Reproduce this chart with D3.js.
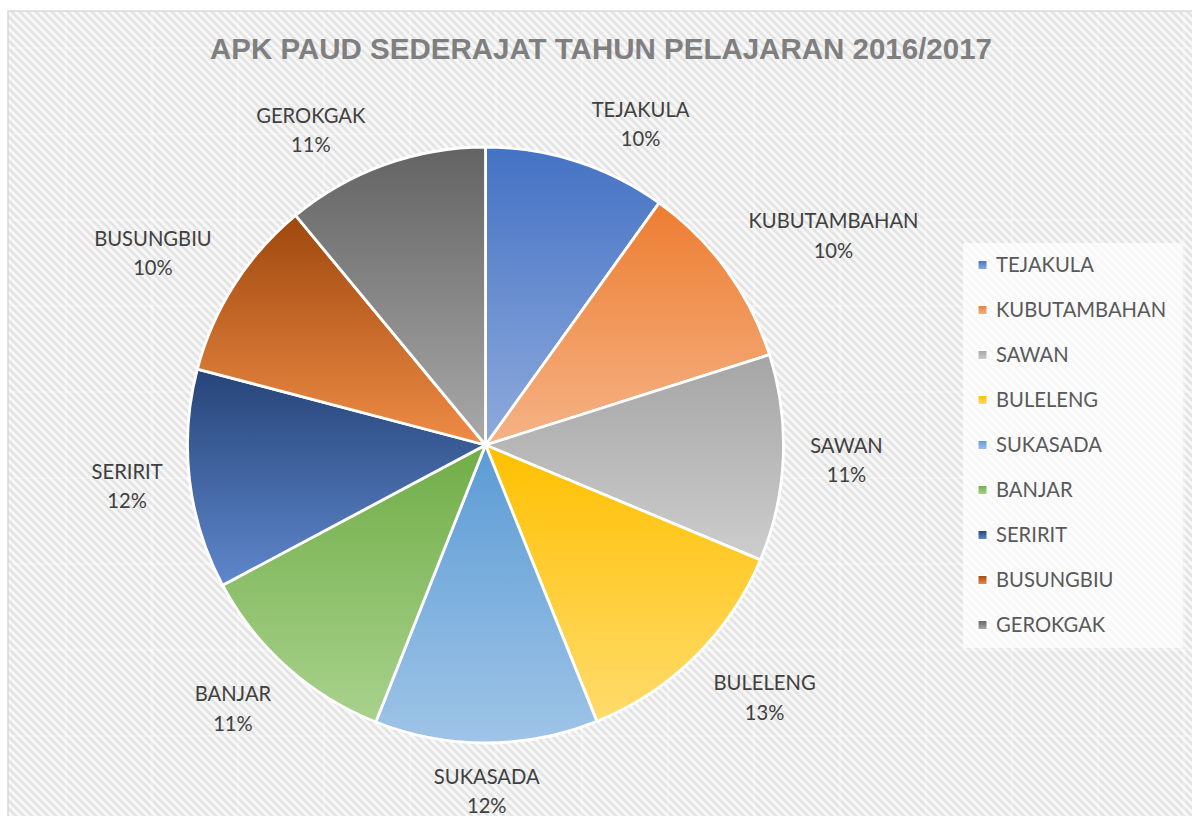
<!DOCTYPE html>
<html>
<head>
<meta charset="utf-8">
<script src="https://cdn.jsdelivr.net/npm/d3@7"></script>
<style>
  body { margin: 0; background: #fff; }
  svg { display: block; }
  .label, .legend-text { font-family: Lato, "Open Sans", sans-serif; font-size: 20.2px; }
  .label { fill: #404040; }
  .legend-text { fill: #595959; }
  .title { font-family: "Liberation Sans", Arial, sans-serif; font-weight: bold; font-size: 29.5px; fill: #7f7f7f; }
</style>
</head>
<body>
<div id="chart"></div>
<script>
const districts = ["TEJAKULA", "KUBUTAMBAHAN", "SAWAN", "BULELENG", "SUKASADA", "BANJAR", "SERIRIT", "BUSUNGBIU", "GEROKGAK"];
const shares = [9.9, 10.2, 11.2, 12.6, 12.1, 11.2, 11.9, 9.9, 11.0];

const topColors = ["#4472c4", "#ed7d31", "#a5a5a5", "#ffc000", "#5b9bd5", "#70ad47", "#264478", "#9e480e", "#636363"];
const bottomColors = ["#8faadc", "#f5b386", "#cdcdcd", "#ffdb6c", "#9fc4e7", "#a9d28d", "#5f87cc", "#ef8c46", "#a9a9a9"];

const W = 1192, H = 816;
const cx = 485.5, cy = 445, radius = 298;
const labelRadius = 325;

const svg = d3.select("#chart").append("svg").attr("width", W).attr("height", H);
const defs = svg.append("defs");

// diagonal hatch background
const hatch = defs.append("pattern")
  .attr("id", "hatch")
  .attr("patternUnits", "userSpaceOnUse")
  .attr("width", 8).attr("height", 8);
hatch.append("rect").attr("width", 8).attr("height", 8).attr("fill", "#f7f7f7");
hatch.append("path")
  .attr("d", "M-2,-2L10,10M-2,6L2,10M6,-2L10,2")
  .attr("stroke", "#e3e3e3")
  .attr("stroke-width", 2.6);

districts.forEach((d, i) => {
  const g = defs.append("linearGradient")
    .attr("id", `grad${i}`)
    .attr("x1", 0).attr("y1", 0).attr("x2", 0).attr("y2", 1);
  g.append("stop").attr("offset", "0%").attr("stop-color", topColors[i]);
  g.append("stop").attr("offset", "100%").attr("stop-color", bottomColors[i]);
});

svg.append("rect")
  .attr("x", 8).attr("y", 11)
  .attr("width", W).attr("height", H)
  .attr("fill", "url(#hatch)")
  .attr("stroke", "#d9d9d9")
  .attr("stroke-width", 1.5);

// faint sheet grid showing through
const grid = svg.append("g").attr("stroke", "#fff").attr("stroke-opacity", 0.55).attr("stroke-width", 1);
grid.selectAll(".gx").data(d3.range(66, W, 86)).join("line")
  .attr("x1", d => d).attr("x2", d => d).attr("y1", 12).attr("y2", H);
grid.selectAll(".gy").data(d3.range(48, H, 86)).join("line")
  .attr("y1", d => d).attr("y2", d => d).attr("x1", 9).attr("x2", W);

svg.append("text")
  .attr("class", "title")
  .attr("x", 601).attr("y", 59.3)
  .attr("text-anchor", "middle")
  .text("APK PAUD SEDERAJAT TAHUN PELAJARAN 2016/2017");

const total = d3.sum(shares);
const pct = d3.format(".0%");
const pie = d3.pie().sort(null).value(d => d);
const arc = d3.arc().innerRadius(0).outerRadius(radius);
const arcs = pie(shares);

const pieG = svg.append("g").attr("transform", `translate(${cx},${cy})`);
pieG.selectAll("path").data(arcs).join("path")
  .attr("d", arc)
  .attr("fill", (d, i) => `url(#grad${i})`)
  .attr("stroke", "#fff")
  .attr("stroke-width", 2.8)
  .attr("stroke-linejoin", "round");

// outside-end data labels
const clamp = v => Math.max(-1, Math.min(1, v));
const capH = 14, lineH = 29.5;
const labels = svg.append("g");
arcs.forEach((a, i) => {
  let theta = (a.startAngle + a.endAngle) / 2;
  if (theta > Math.PI) theta -= 2 * Math.PI;
  let phi = theta;
  if (Math.cos(theta) > 0.9) phi = theta * 1.3;

  const t = labels.append("text").attr("class", "label").attr("text-anchor", "middle");
  const l1 = t.append("tspan").text(districts[i]);
  const l2 = t.append("tspan").text(pct(shares[i] / total));
  const w = Math.max(l1.node().getComputedTextLength(), l2.node().getComputedTextLength());
  const h = capH + lineH;

  const px = cx + labelRadius * Math.sin(phi);
  const py = cy - labelRadius * Math.cos(phi);
  const bx = px + (w / 2) * clamp(Math.sin(phi) * Math.SQRT2);
  const by = py + (h / 2) * clamp(-Math.cos(phi) * Math.SQRT2);

  const base = by - h / 2 + capH;
  l1.attr("x", bx).attr("y", base);
  l2.attr("x", bx).attr("y", base + lineH);
});

// legend
const legend = svg.append("g").attr("transform", "translate(963,243)");
legend.append("rect")
  .attr("width", 220).attr("height", 405)
  .attr("fill", "#fff").attr("fill-opacity", 0.7);

const ly = d3.scalePoint().domain(districts).range([22, 382]);
const item = legend.selectAll(".item").data(districts).join("g")
  .attr("transform", d => `translate(0,${ly(d)})`);
item.append("rect")
  .attr("x", 15).attr("y", -4.5)
  .attr("width", 9).attr("height", 9)
  .attr("fill", (d, i) => `url(#grad${i})`)
  .attr("stroke", "#fff").attr("stroke-width", 1);
item.append("text")
  .attr("class", "legend-text")
  .attr("x", 33).attr("y", 7)
  .text(d => d);
</script>
</body>
</html>
